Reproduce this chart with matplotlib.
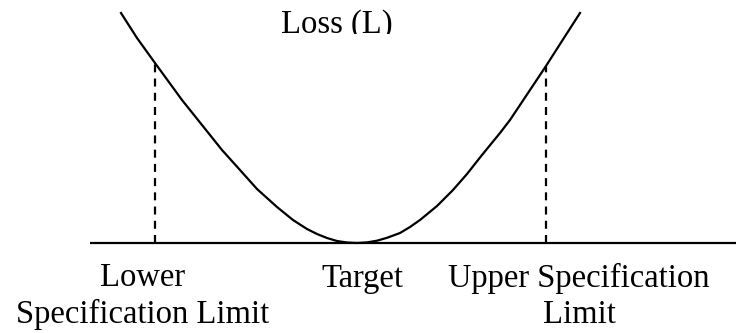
import matplotlib
matplotlib.use("Agg")
import matplotlib.pyplot as plt
from matplotlib.transforms import Bbox

plt.rcParams['font.family'] = ['Liberation Serif', 'DejaVu Serif']

# deviation from target (x) and loss (y)
dev = [-236, -220, -202, -175, -159, -135, -117, -100, -80, -64, -50, -40,
       -30, -20, -10, 0, 10, 20, 30, 43, 53, 63, 80, 96, 110, 125, 143,
       153, 167, 181, 189, 205, 223]
loss = [230, 205, 180, 143, 123, 93, 73, 54, 36, 23, 14, 9,
        5, 2, 0.5, 0, 0.6, 2.3, 5.2, 10, 16, 23, 37, 53, 69, 88, 110,
        123, 144, 165, 177, 202, 230]

spec_limits = [-202, 189]
spec_loss = [180, 177]

tick_pos = [-214, 5, 222]
tick_labels = ['Lower\nSpecification Limit', 'Target', 'Upper Specification\nLimit']

fig = plt.figure(figsize=(7.36, 3.33), dpi=100)
ax = fig.add_axes([0, 0, 1, 1])
ax.set_xlim(-357, 379)
ax.set_ylim(-90, 243)
ax.axis('off')

# horizontal axis
ax.plot([-267, 379], [0, 0], color='black', lw=1.6, solid_capstyle='butt')

# loss curve
ax.plot(dev, loss, color='black', lw=1.6, solid_joinstyle='round')

# spec limit markers
for xs, ys in zip(spec_limits, spec_loss):
    ax.plot([xs, xs], [0, ys], color='black', lw=1.6, dashes=(3.6, 2.8))

for xp, lab in zip(tick_pos, tick_labels):
    ax.text(xp, -20, lab, ha='center', va='top', fontsize=23.5,
            linespacing=1.22)

# title, clipped at the bottom as in the original
t = ax.text(-20, 210, 'Loss (L)', ha='center', va='baseline', fontsize=23.5)
t.set_clip_box(Bbox.from_extents(0, 333 - 34, 736, 333))
t.set_clip_on(True)

fig.savefig('out.png', dpi=100)
